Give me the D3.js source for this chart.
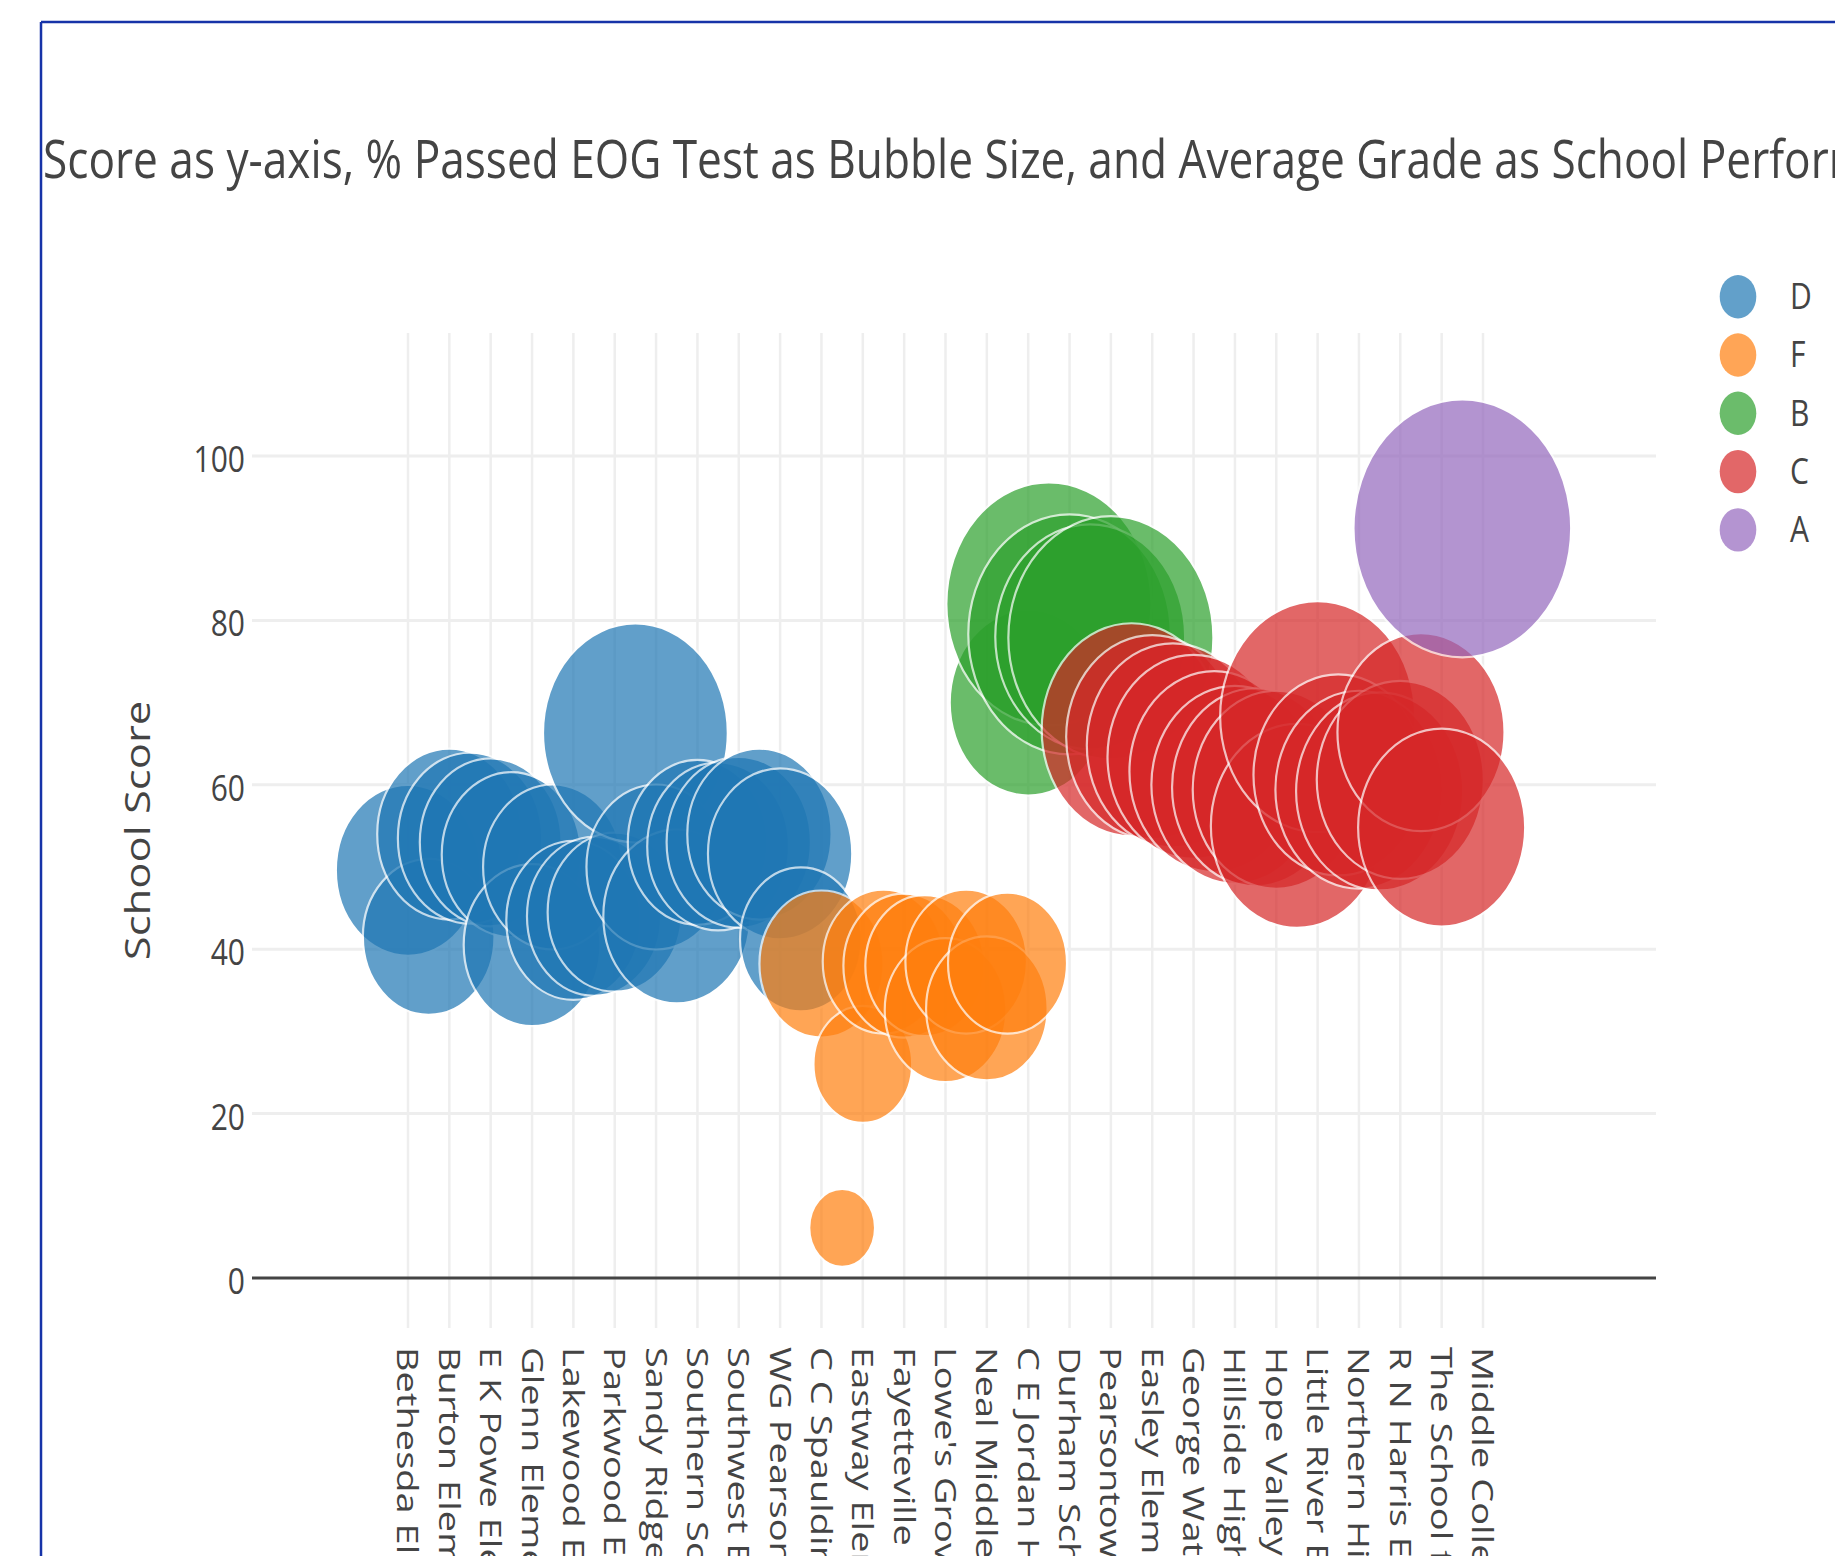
<!DOCTYPE html>
<html>
<head>
<meta charset="utf-8">
<script src="https://cdn.jsdelivr.net/npm/d3@7"></script>
<style>
  html, body { margin: 0; padding: 0; background: #fff; overflow: hidden; }
  svg { display: block; }
  text { font-family: "Open Sans", "Noto Sans", sans-serif; fill: #444; }
</style>
</head>
<body>
<svg id="chart" width="1835" height="1556"></svg>
<script>
// ---------------- DATA ----------------
const gradeNames = ["D", "F", "B", "C", "A"];

const schoolsD = ["Bethesda Elementary", "Brogden Middle", "Burton Elementary", "Club Boulevard Elementary",
  "E K Powe Elementary", "Eno Valley Elementary", "Glenn Elementary", "Holt Elementary",
  "Lakewood Elementary", "Merrick-Moore Elementary", "Parkwood Elementary", "Rogers-Herr Middle",
  "Sandy Ridge Elementary", "Sherwood Githens Middle", "Southern School of Energy and Sustainability",
  "Southside Elementary", "Southwest Elementary", "Spring Valley Elementary", "WG Pearson Elementary",
  "Y E Smith Elementary"];
const scoreD = [49.6, 41.5, 54, 53.5, 53, 51.5, 40.5, 50, 43.5, 44, 44.5, 66.3, 50, 44, 53, 52.5, 53, 54, 51.6, 41.2];
const passD  = [57, 52, 57, 57, 56, 55, 54, 55, 53, 53, 53, 73, 55, 58, 55, 56, 57, 57, 57, 48];

const schoolsF = ["C C Spaulding Elementary", "Durham Performance Learning Center", "Eastway Elementary",
  "Edgemont Elementary", "Fayetteville Street Elementary", "Githens Middle", "Lowe's Grove Middle",
  "Lucas Middle", "Neal Middle", "Shepard Middle"];
const scoreF = [38.2, 6.1, 26, 38.5, 38, 38, 32.6, 38.5, 32.8, 38.3];
const passF  = [49, 26, 39, 48, 48, 47, 48, 48, 48, 47];

const schoolsB = ["C E Jordan High", "Creekside Elementary", "Durham School of the Arts",
  "Mangum Elementary", "Pearsontown Elementary"];
const scoreB = [70, 82, 78.3, 78, 77.9];
const passB  = [62, 81, 80, 75, 81];

const schoolsC = ["Carrington Middle", "Easley Elementary", "Forest View Elementary", "George Watts Elementary",
  "Hillandale Elementary", "Hillside High", "Hillside New Tech High", "Hope Valley Elementary",
  "Lakewood Montessori Middle", "Little River Elementary", "Morehead Montessori", "Northern High",
  "Oak Grove Elementary", "R N Harris Elementary", "Riverside High", "The School for Creative Studies"];
const scoreC = [66.7, 65.8, 64.8, 63.4, 61.6, 60, 59.7, 59.4, 55, 68.3, 61.2, 59.4, 59.2, 60.6, 66.4, 54.8];
const passC  = [71, 68, 68, 68, 67, 66, 66, 66, 68, 77, 67, 66, 66, 66, 66, 66];

const schoolsA = ["City of Medicine Academy", "Middle College High"];
const scoreA = [91.2, null];
const passA  = [86, null];

const yTicks = [0, 20, 40, 60, 80, 100];
const titleText = "Score as y-axis, % Passed EOG Test as Bubble Size, and Average Grade as School Performance Grade";
const yAxisTitle = "School Score";

// ---------------- BUILD ----------------
const categories = [...schoolsD, ...schoolsF, ...schoolsB, ...schoolsC, ...schoolsA];
const groups = [
  {grade: "D", schools: schoolsD, score: scoreD, pass: passD},
  {grade: "F", schools: schoolsF, score: scoreF, pass: passF},
  {grade: "B", schools: schoolsB, score: scoreB, pass: passB},
  {grade: "C", schools: schoolsC, score: scoreC, pass: passC},
  {grade: "A", schools: schoolsA, score: scoreA, pass: passA}
];

const color = d3.scaleOrdinal().domain(gradeNames)
  .range(["#1f77b4", "#ff7f0e", "#2ca02c", "#d62728", "#9467bd"]);

const VS = 1.185;            // vertical stretch of the picture
const plot = {left: 252, right: 1656, top: 333, bottom: 1328};

const x = d3.scalePoint().domain(categories).range([408, 1483]);
const y = d3.scaleLinear().domain([0, 100]).range([1278, 456]);
const ry = d3.scaleLinear().domain([0, 100]).range([0, 150]);

const svg = d3.select("#chart");

// frame border
svg.append("line").attr("x1", 41).attr("x2", 1835).attr("y1", 22).attr("y2", 22)
  .attr("stroke", "#1633a8").attr("stroke-width", 2.5);
svg.append("line").attr("x1", 41).attr("x2", 41).attr("y1", 22).attr("y2", 1556)
  .attr("stroke", "#1633a8").attr("stroke-width", 2.5);

// title
svg.append("g").attr("transform", `translate(43,178) scale(1,${VS})`)
  .append("text").attr("font-size", 44.2).text(titleText);

// vertical grid (every other category carries a tick)
const tickCats = categories.filter((d, i) => i % 2 === 0);
svg.append("g").selectAll("line").data(tickCats).join("line")
  .attr("x1", d => x(d)).attr("x2", d => x(d))
  .attr("y1", plot.top).attr("y2", plot.bottom)
  .attr("stroke", "#eee").attr("stroke-width", 2.5);

// horizontal grid
svg.append("g").selectAll("line").data(yTicks.filter(t => t !== 0)).join("line")
  .attr("x1", plot.left).attr("x2", plot.right)
  .attr("y1", d => y(d)).attr("y2", d => y(d))
  .attr("stroke", "#eee").attr("stroke-width", 3);

// zero line
svg.append("line").attr("x1", plot.left).attr("x2", plot.right)
  .attr("y1", y(0)).attr("y2", y(0)).attr("stroke", "#444").attr("stroke-width", 3);

// y tick labels
svg.append("g").selectAll("g").data(yTicks).join("g")
  .attr("transform", d => `translate(245,${y(d) + 3.5}) scale(1,${VS})`)
  .append("text").attr("text-anchor", "end").attr("dy", "0.35em").attr("font-size", 30)
  .text(d => d);

// y axis title
svg.append("g").attr("transform", `translate(138,${(plot.top + plot.bottom) / 2}) scale(1,${VS * 1.05}) rotate(-90)`)
  .append("text").attr("text-anchor", "middle").attr("dy", "0.35em").attr("font-size", 35)
  .text(yAxisTitle);

// x tick labels
svg.append("g").selectAll("g").data(tickCats).join("g")
  .attr("transform", d => `translate(${x(d)},1347) scale(1,${VS * 1.07}) rotate(90)`)
  .append("text").attr("text-anchor", "start").attr("dy", "0.35em").attr("font-size", 30)
  .text(d => d);

// bubbles
const bubbleLayer = svg.append("g");
groups.forEach(g => {
  const pts = g.schools.map((s, i) => ({school: s, score: g.score[i], pass: g.pass[i]}))
    .filter(p => p.score != null);
  bubbleLayer.append("g").selectAll("ellipse").data(pts).join("ellipse")
    .attr("cx", d => x(d.school))
    .attr("cy", d => y(d.score))
    .attr("ry", d => ry(d.pass))
    .attr("rx", d => ry(d.pass) / VS)
    .attr("fill", color(g.grade))
    .attr("stroke", "#fff").attr("stroke-width", 2.2)
    .attr("opacity", 0.7);
});

// legend
const legend = svg.append("g");
gradeNames.forEach((gname, i) => {
  const cy = 296.7 + 58.3 * i;
  legend.append("ellipse").attr("cx", 1738).attr("cy", cy)
    .attr("rx", 18.3).attr("ry", 21.7).attr("fill", color(gname)).attr("opacity", 0.7);
  legend.append("g").attr("transform", `translate(1790,${cy}) scale(1,${VS})`)
    .append("text").attr("dy", "0.35em").attr("font-size", 30).text(gname);
});
</script>
</body>
</html>
